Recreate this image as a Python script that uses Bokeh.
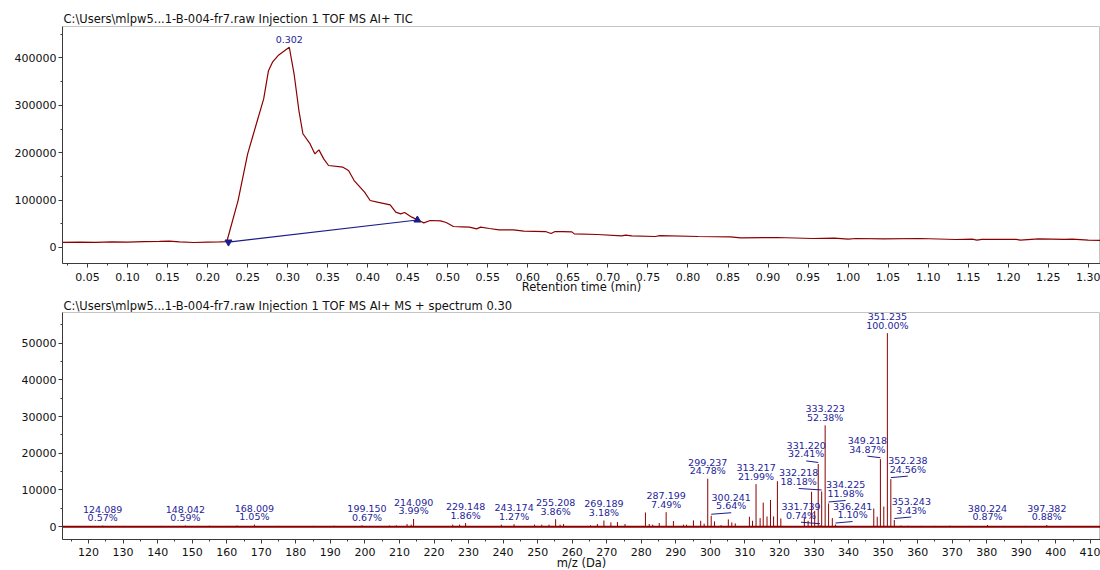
from bokeh.plotting import figure
from bokeh.layouts import column
from bokeh.models import Range1d, SingleIntervalTicker, NumeralTickFormatter, ColumnDataSource, Title
from bokeh.core.properties import value
from bokeh.embed import file_html
from bokeh.resources import INLINE

# ---------------- data: TIC chromatogram ----------------
tic_title = "C:\\Users\\mlpw5...1-B-004-fr7.raw Injection 1 TOF MS AI+ TIC"
tic_time = [0.018, 0.04, 0.06, 0.08, 0.10, 0.12, 0.14, 0.152, 0.165, 0.183, 0.20, 0.215, 0.224,
            0.238, 0.250, 0.256, 0.270, 0.276, 0.281, 0.288, 0.302, 0.308, 0.314, 0.319, 0.328,
            0.334, 0.339, 0.345, 0.351, 0.369, 0.376, 0.383, 0.396, 0.403, 0.412, 0.428, 0.435,
            0.441, 0.446, 0.455, 0.466, 0.470, 0.478, 0.491, 0.498, 0.507, 0.518, 0.527, 0.536,
            0.541, 0.552, 0.564, 0.582, 0.595, 0.622, 0.629, 0.634, 0.643, 0.655, 0.658, 0.687,
            0.717, 0.722, 0.730, 0.759, 0.765, 0.813, 0.853, 0.866, 0.911, 0.956, 0.983, 1.000,
            1.010, 1.045, 1.090, 1.135, 1.155, 1.161, 1.167, 1.210, 1.215, 1.238, 1.270, 1.280,
            1.300, 1.323]
tic_intensity = [11000, 11500, 11000, 11800, 11500, 12500, 12800, 13400, 12000, 10500, 11500, 12000, 12600,
                 99000, 197500, 232700, 313500, 373000, 391000, 405000, 422500, 366000, 289000, 240000, 218600,
                 197500, 206000, 187000, 173000, 169400, 162400, 141300, 116700, 99100, 95600, 90000, 74500,
                 71000, 73800, 64000, 55500, 52000, 57000, 56200, 52700, 44300, 43600, 42900, 39400,
                 42900, 40100, 37300, 37300, 34400, 33700, 29500, 33700, 33700, 33000, 28800, 27400,
                 24600, 26000, 24600, 23200, 25000, 23200, 22500, 20400, 21100, 19000, 19700, 17600,
                 19000, 18300, 19000, 16900, 17500, 15500, 17000, 17000, 15500, 18300, 17000, 17500,
                 15500, 14800]
apex_rt = [0.302]
apex_intensity = [422500]
baseline_rt = [0.226, 0.462]
baseline_intensity = [11500, 58000]

# ---------------- data: MS spectrum ----------------
ms_title = "C:\\Users\\mlpw5...1-B-004-fr7.raw Injection 1 TOF MS AI+ MS + spectrum 0.30"
base_peak_intensity = 52700
label_mz = [124.089, 148.042, 168.009, 199.150, 214.090, 229.148, 243.174, 255.208, 269.189,
            287.199, 299.237, 300.241, 313.217, 331.220, 331.739, 332.218, 333.223, 334.225,
            336.241, 349.218, 351.235, 352.238, 353.243, 380.224, 397.382]
label_pct = [0.57, 0.59, 1.05, 0.67, 3.99, 1.86, 1.27, 3.86, 3.18,
             7.49, 24.78, 5.64, 21.99, 32.41, 0.74, 18.18, 52.38, 11.98,
             1.10, 34.87, 100.00, 24.56, 3.43, 0.87, 0.88]
minor_mz = [130.1, 135.0, 141.1, 155.0, 160.1, 163.0, 175.1, 185.0, 191.1, 207.1, 209.1,
            212.2, 213.4, 225.4, 227.4, 239.5, 249.1, 251.2, 253.3, 256.5, 257.5, 265.3, 267.3,
            271.2, 273.1, 275.3, 281.2, 282.3, 283.3, 285.2, 289.3, 292.2, 293.1, 295.1, 297.2,
            298.2, 301.2, 303.1, 305.2, 306.2, 307.2, 311.3, 312.2, 314.4, 315.3, 316.4, 317.4,
            318.3, 319.4, 320.4, 327.2, 328.3, 329.3, 330.2, 335.3, 347.3, 348.3, 350.2,
            355.2, 357.2, 361.0, 365.1, 369.3, 375.0, 385.1, 391.0, 403.2]
minor_intensity = [200, 150, 200, 250, 200, 300, 200, 200, 250, 300, 350,
                   700, 540, 540, 540, 540, 540, 540, 540, 540, 700, 350, 720,
                   1160, 1250, 720, 3850, 720, 540, 985, 1520, 540, 540, 1700, 1600,
                   800, 1430, 400, 1970, 1160, 900, 2690, 1600, 2330, 6540, 2780, 7260,
                   2780, 12360, 2240, 2500, 1600, 9500, 4300, 2330, 4930, 2690, 5470,
                   300, 250, 200, 200, 250, 200, 200, 200, 200]
scan_range = [112.5, 413.0]

# label placement (style): horizontal shift of each annotation in px
label_dx = [0, 0, 0, 5, 0, 0, 0, 0, 0,
            0, 0, 20, 0, -12, -19, -23, 0, 17,
            17, -13, 0, 17, 17, 0, 0]

FONT = "DejaVu Sans"
TRACE = "#8b0000"
NAVY = "#1c1c8a"
LABEL = "#23239a"
FRAME_W = 1038
TOP_FH = 237
MS_FH = 227
MS_Y = (-3500, 58330)


def style(p, xlabel):
    p.background_fill_color = "white"
    p.border_fill_color = "white"
    p.outline_line_color = "#c4c4c4"
    p.xgrid.visible = False
    p.ygrid.visible = False
    for ax in (p.xaxis[0], p.yaxis[0]):
        ax.axis_line_color = "#3a3a3a"
        ax.major_tick_line_color = "#3a3a3a"
        ax.minor_tick_line_color = "#3a3a3a"
        ax.major_tick_out = 4
        ax.major_tick_in = 0
        ax.minor_tick_out = 2
        ax.minor_tick_in = 0
        ax.major_label_text_font = FONT
        ax.major_label_text_font_size = "11px"
        ax.major_label_text_color = "#111111"
        ax.major_label_standoff = 2
    p.xaxis.major_label_standoff = 5
    p.xaxis.axis_label = xlabel
    p.xaxis.axis_label_text_font = FONT
    p.xaxis.axis_label_text_font_size = "11.5px"
    p.xaxis.axis_label_text_font_style = "normal"
    p.xaxis.axis_label_text_color = "#111111"
    p.xaxis.axis_label_standoff = -3


def style_title(t):
    t.text_font = FONT
    t.text_font_size = "11.5px"
    t.text_font_style = "normal"
    t.text_color = "#111111"
    t.align = "left"
    t.standoff = 1
    t.offset = 1


# ---------------- top: chromatogram ----------------
top = figure(frame_width=FRAME_W, frame_height=TOP_FH,
             x_range=Range1d(0.0187, 1.3153), y_range=Range1d(-33760, 466300),
             output_backend="svg", toolbar_location=None, title=tic_title,
             min_border_left=62, min_border_right=0, min_border_top=26, min_border_bottom=0)
style(top, "Retention time (min)")
top.xaxis.axis_label_standoff = -4
style_title(top.title)
top.title.standoff = 2
top.xaxis.ticker = SingleIntervalTicker(interval=0.05, num_minor_ticks=2)
top.xaxis.formatter = NumeralTickFormatter(format="0.00")
top.yaxis.ticker = SingleIntervalTicker(interval=100000, num_minor_ticks=2)
top.yaxis.formatter = NumeralTickFormatter(format="0")

top.line(tic_time, tic_intensity, line_color=TRACE, line_width=1.2)
top.line(baseline_rt, baseline_intensity, line_color=NAVY, line_width=1.2)
top.scatter([baseline_rt[0]], [baseline_intensity[0]], marker="inverted_triangle", size=7,
            fill_color=NAVY, line_color=NAVY)
top.scatter([baseline_rt[1]], [baseline_intensity[1]], marker="triangle", size=7,
            fill_color=NAVY, line_color=NAVY)
top.text(x=apex_rt, y=apex_intensity, text=[f"{apex_rt[0]:.3f}"], text_align="center",
         text_baseline="bottom", y_offset=-4, text_font=value(FONT), text_font_size="9.5px",
         text_color=LABEL)

# title of the spectrum panel, placed in the gap below the chromatogram axis
ms_title_obj = Title(text=ms_title)
style_title(ms_title_obj)
ms_title_obj.standoff = 0
top.add_layout(ms_title_obj, "below")

# ---------------- bottom: spectrum ----------------
ms = figure(frame_width=FRAME_W, frame_height=MS_FH,
            x_range=Range1d(112.46, 412.93), y_range=Range1d(*MS_Y),
            output_backend="svg", toolbar_location=None,
            min_border_left=62, min_border_right=0, min_border_top=0, min_border_bottom=0)
style(ms, "m/z (Da)")
ms.xaxis.major_label_standoff = 4
ms.xaxis.ticker = SingleIntervalTicker(interval=10, num_minor_ticks=2)
ms.yaxis.ticker = SingleIntervalTicker(interval=10000, num_minor_ticks=2)
ms.yaxis.formatter = NumeralTickFormatter(format="0")

label_intensity = [pc / 100.0 * base_peak_intensity for pc in label_pct]
all_mz = minor_mz + label_mz
all_int = minor_intensity + label_intensity
ms.line(scan_range, [0, 0], line_color=TRACE, line_width=2)
ms.segment(x0=all_mz, y0=[0] * len(all_mz), x1=all_mz, y1=all_int, line_color=TRACE, line_width=1)

sx = FRAME_W / (412.93 - 112.46)
sy = MS_FH / (MS_Y[1] - MS_Y[0])
lead = [abs(d) > 8 for d in label_dx]
gap = [4.5 if l else 2.5 for l in lead]
src = ColumnDataSource(dict(
    x=label_mz, y=label_intensity,
    mz=[f"{m:.3f}" for m in label_mz],
    pct=[f"{pc:.2f}%" for pc in label_pct],
    dx=label_dx,
    dy1=[-g for g in gap],
    dy2=[-g - 10.5 for g in gap],
))
ms.text(x="x", y="y", text="pct", x_offset="dx", y_offset="dy1", source=src,
        text_align="center", text_baseline="bottom", text_font=value(FONT),
        text_font_size="9.5px", text_color=LABEL)
ms.text(x="x", y="y", text="mz", x_offset="dx", y_offset="dy2", source=src,
        text_align="center", text_baseline="bottom", text_font=value(FONT),
        text_font_size="9.5px", text_color=LABEL)

lx0, ly0, lx1, ly1 = [], [], [], []
for m, v, d, l in zip(label_mz, label_intensity, label_dx, lead):
    if l:
        lx0.append(m)
        ly0.append(v + 1.5 / sy)
        lx1.append(m + d / sx)
        ly1.append(v + 3.0 / sy)
ms.segment(x0=lx0, y0=ly0, x1=lx1, y1=ly1, line_color=NAVY, line_width=1)

layout = column(top, ms, spacing=0)
open("out.html", "w").write(file_html(layout, INLINE))
